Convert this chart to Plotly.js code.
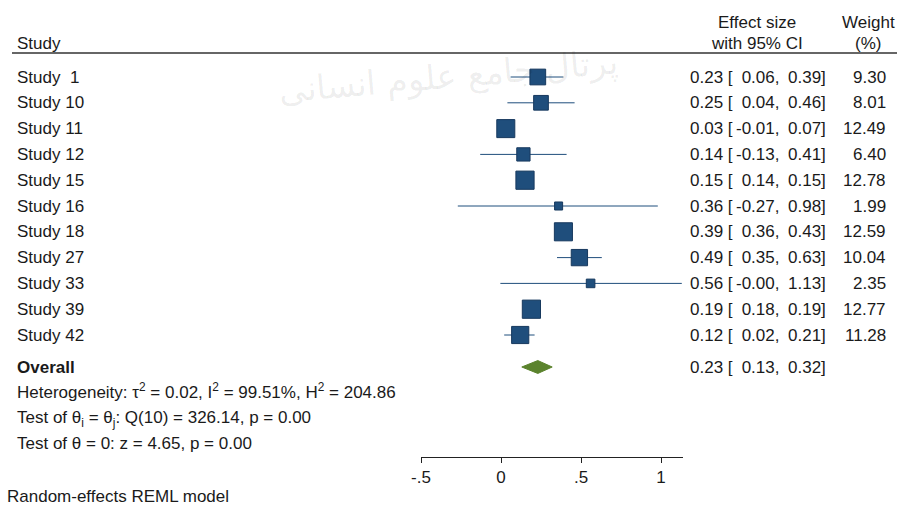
<!DOCTYPE html>
<html>
<head>
<meta charset="utf-8">
<script src="https://cdn.plot.ly/plotly-3.0.1.min.js"></script>
<style>html,body{margin:0;padding:0;background:#fff;}#chart{width:897px;height:505px;}</style>
</head>
<body>
<div id="chart"></div>
<script>
// ---- data ----
const studies = ["Study  1","Study 10","Study 11","Study 12","Study 15","Study 16","Study 18","Study 27","Study 33","Study 39","Study 42"];
const effect  = [0.23, 0.25, 0.03, 0.14, 0.15, 0.36, 0.39, 0.49, 0.56, 0.19, 0.12];
const ciLow   = [0.06, 0.04, -0.01, -0.13, 0.14, -0.27, 0.36, 0.35, -0.004, 0.18, 0.02];
const ciHigh  = [0.39, 0.46, 0.07, 0.41, 0.15, 0.98, 0.43, 0.63, 1.13, 0.19, 0.21];
const weights = [9.30, 8.01, 12.49, 6.40, 12.78, 1.99, 12.59, 10.04, 2.35, 12.77, 11.28];
const overallEffect = 0.23, overallLow = 0.13, overallHigh = 0.32;
const tickVals = [-0.5, 0, 0.5, 1];
const tickText = ["-.5", "0", ".5", "1"];
const heterogeneity = "Heterogeneity: τ<sup>2</sup> = 0.02, I<sup>2</sup> = 99.51%, H<sup>2</sup> = 204.86";
const testHomog = "Test of θ<sub>i</sub> = θ<sub>j</sub>: Q(10) = 326.14, p = 0.00";
const testZero = "Test of θ = 0: z = 4.65, p = 0.00";
const modelNote = "Random-effects REML model";

// ---- layout helpers ----
const W = 897, H = 505;
const FONT = "Liberation Sans, Arial, sans-serif";
const FS = 17;
const TXT = "#1a1a1a";
const BLUE = "#1f4e7c";
const rowPx0 = 77, rowStep = 25.8;
const py = p => (p - rowPx0) / rowStep;   // pixel -> row coordinate
const px = p => p / W;                      // pixel -> paper x
const overallRow = py(367);

// ---- traces ----
const ciX = [], ciY = [];
studies.forEach((s, i) => { ciX.push(ciLow[i], ciHigh[i], null); ciY.push(i, i, null); });

const traces = [
  { type: "scatter", mode: "lines", x: ciX, y: ciY, line: { color: BLUE, width: 1 }, hoverinfo: "skip", showlegend: false },
  { type: "scatter", mode: "markers", x: effect, y: studies.map((s, i) => i),
    marker: { symbol: "square", color: BLUE, opacity: 1, size: weights.map(w => 1.4 + 4.7 * Math.sqrt(w)), line: { color: "#17395e", width: 1 } },
    showlegend: false },
  { type: "scatter", mode: "lines", fill: "toself", fillcolor: "#5b832d",
    x: [overallLow, overallEffect, overallHigh, overallEffect, overallLow],
    y: [overallRow, overallRow - 0.25, overallRow, overallRow + 0.25, overallRow],
    line: { color: "#5b832d", width: 1 }, showlegend: false }
];

// ---- annotations ----
const ann = [];
const txt = (text, xp, yp, anchor, extra) => ann.push(Object.assign({
  text: text, xref: "paper", yref: "y", x: px(xp), y: py(yp), xanchor: anchor, yanchor: "middle",
  showarrow: false, font: { family: FONT, size: FS, color: TXT }
}, extra || {}));

// watermark (semi-transparent overlay, as in the scanned source)
ann.push({ text: "پرتال جامع علوم انسانی", xref: "paper", yref: "y", x: px(448), y: py(76), xanchor: "center", yanchor: "middle",
  showarrow: false, textangle: -5, font: { family: "DejaVu Sans, sans-serif", size: 34, color: "rgba(0,0,0,0.075)" } });

txt("Study", 15, 43, "left");
txt("Effect size", 757, 22, "center");
txt("with 95% CI", 757, 43, "center");
txt("Weight", 868, 22, "center");
txt("(%)", 868, 43, "center");

const ciCells = (es, lo, hi, y) => {
  txt(es.toFixed(2) + " [", 688, y, "left");
  txt((lo < 0 ? "" : "\u2004") + lo.toFixed(2) + ",", 734, y, "left");
  txt(hi.toFixed(2) + "]", 828, y, "right");
};
studies.forEach((s, i) => {
  const y = rowPx0 + rowStep * i;
  txt(s.replace(/ /g, "\u00a0"), 15, y, "left");
  ciCells(effect[i], ciLow[i], ciHigh[i], y);
  txt(weights[i].toFixed(2), 888, y, "right");
});
txt("<b>Overall</b>", 15, 367, "left");
ciCells(overallEffect, overallLow, overallHigh, 367);
txt(heterogeneity, 15, 391, "left");
txt(testHomog, 15, 419, "left");
txt(testZero, 15, 443, "left");
ann.push({ text: modelNote, xref: "paper", yref: "paper", x: px(5), y: -(496 - 457) / 457, xanchor: "left", yanchor: "middle",
  showarrow: false, font: { family: FONT, size: FS, color: TXT } });

const layout = {
  width: W, height: H,
  margin: { l: 0, r: 0, t: 0, b: 48, pad: 0 },
  paper_bgcolor: "#ffffff", plot_bgcolor: "rgba(0,0,0,0)",
  showlegend: false,
  xaxis: {
    domain: [421 / W, 683 / W], range: [-0.5, 1.1375],
    showline: true, linecolor: "#222", linewidth: 1,
    ticks: "outside", ticklen: 5, tickcolor: "#222", tickwidth: 1,
    tickvals: tickVals, ticktext: tickText,
    tickfont: { family: FONT, size: FS, color: TXT },
    showgrid: false, zeroline: false, fixedrange: true
  },
  yaxis: { range: [py(457), py(0)], visible: false, showgrid: false, zeroline: false, fixedrange: true },
  shapes: [
    { type: "line", xref: "paper", yref: "y", x0: px(12), x1: 1, y0: py(53), y1: py(53), line: { color: "#333", width: 1.5 } }
  ],
  annotations: ann
};

Plotly.newPlot("chart", traces, layout, { staticPlot: true, displayModeBar: false });
</script>
</body>
</html>
